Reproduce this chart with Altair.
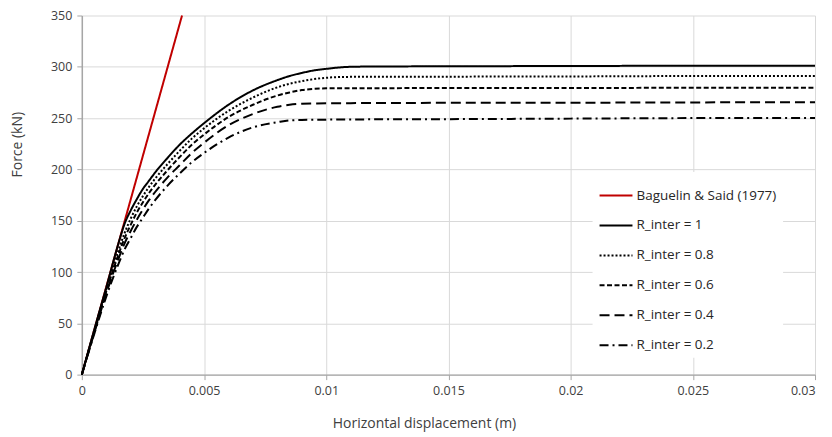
import altair as alt
import pandas as pd

x_vals = [0, 0.0005, 0.001, 0.0015, 0.00175, 0.002, 0.00225, 0.0025, 0.00275, 0.003,
          0.0035, 0.004, 0.0045, 0.005, 0.006, 0.007, 0.008, 0.0085, 0.009, 0.0095,
          0.010, 0.0105, 0.011, 0.012, 0.015, 0.02, 0.025, 0.03]
r10 = [0, 43, 85, 128, 147, 160, 171, 181, 189, 197,
       211, 224, 235, 245, 263, 277, 287, 291, 294, 296.5,
       298, 299.3, 300, 300.3, 300.5, 300.8, 301, 301]
r08 = [0, 42, 83, 121, 138, 152, 164, 174, 183, 191,
       205, 218, 230, 240, 257, 270, 280, 283.5, 286, 288,
       289.3, 290, 290.2, 290.3, 290.4, 290.6, 291, 291]
r06 = [0, 41, 81, 117, 133, 146, 158, 168, 177, 185,
       199, 212, 224, 234, 251, 263, 272, 275, 277.3, 278.5,
       279, 279.1, 279.2, 279.2, 279.3, 279.4, 279.5, 279.5]
r04 = [0, 40, 79, 113, 128, 140, 151, 161, 170, 178,
       192, 204, 216, 226, 243, 254, 261, 263, 264, 264.3,
       264.5, 264.5, 264.6, 264.7, 264.9, 265, 265.3, 265.5]
r02 = [0, 39, 76, 108, 122, 133, 144, 153, 162, 170,
       184, 196, 207, 216, 231, 241, 246, 247.8, 248.2, 248.4,
       248.5, 248.6, 248.7, 248.8, 249, 249.5, 250, 250]
bag_x = [0, 0.0041]
bag_y = [0, 350]

names = ["Baguelin & Said (1977)", "R_inter = 1", "R_inter = 0.8",
         "R_inter = 0.6", "R_inter = 0.4", "R_inter = 0.2"]
colors = ["#C00000", "#000000", "#000000", "#000000", "#000000", "#000000"]
dashes = [[1, 0], [1, 0], [2, 2], [5, 2.5], [10, 5], [9, 4, 2, 4]]

rows = []
for xv, yv in zip(bag_x, bag_y):
    rows.append({"x": xv, "y": yv, "s": names[0], "o": 0})
for i, ser in enumerate([r10, r08, r06, r04, r02]):
    for xv, yv in zip(x_vals, ser):
        rows.append({"x": xv, "y": yv, "s": names[i + 1], "o": i + 1})
df = pd.DataFrame(rows)

font = "Open Sans"
chart = alt.Chart(df).mark_line(strokeWidth=2, interpolate="monotone").encode(
    x=alt.X("x:Q", scale=alt.Scale(domain=[0, 0.03], nice=False),
            axis=alt.Axis(values=[0, 0.005, 0.01, 0.015, 0.02, 0.025, 0.03],
                          format="~g", title="Horizontal displacement (m)",
                          labelFlush=False,
                          labelAlign=alt.expr("datum.value >= 0.03 ? 'right' : 'center'"),
                          titleX=343, titleY=49, titleBaseline="middle",
                          titleAlign="center")),
    y=alt.Y("y:Q", scale=alt.Scale(domain=[0, 350], nice=False),
            axis=alt.Axis(values=list(range(0, 351, 50)), title="Force (kN)",
                          titleX=-64, titleY=129, titleAngle=270,
                          titleBaseline="middle", titleAlign="center")),
    color=alt.Color("s:N", scale=alt.Scale(domain=names, range=colors),
                    legend=alt.Legend(title=None, orient="none", legendX=512, legendY=157,
                                      symbolType="stroke", symbolSize=1089,
                                      symbolStrokeWidth=2, rowPadding=6,
                                      labelFontSize=13.5, labelFont=font,
                                      labelColor="#262626", fillColor="white",
                                      padding=6, labelOffset=3)),
    strokeDash=alt.StrokeDash("s:N", scale=alt.Scale(domain=names, range=dashes)),
    detail="s:N",
    order="o:Q",
).properties(
    width=735, height=360,
    autosize=alt.AutoSizeParams(type="none"),
    padding={"left": 74, "top": 7, "right": 9, "bottom": 60},
).configure_view(stroke=None).configure_axis(
    labelFont=font, titleFont=font, labelFontSize=12.5, titleFontSize=14,
    labelColor="#404040", titleColor="#404040", titleFontWeight="normal",
    gridColor="#d9d9d9", domainColor="#a6a6a6", tickColor="#a6a6a6",
    tickSize=5, labelPadding=5, domainWidth=1.5,
)

chart.save("out.html", embed_options={"renderer": "svg", "actions": False})
